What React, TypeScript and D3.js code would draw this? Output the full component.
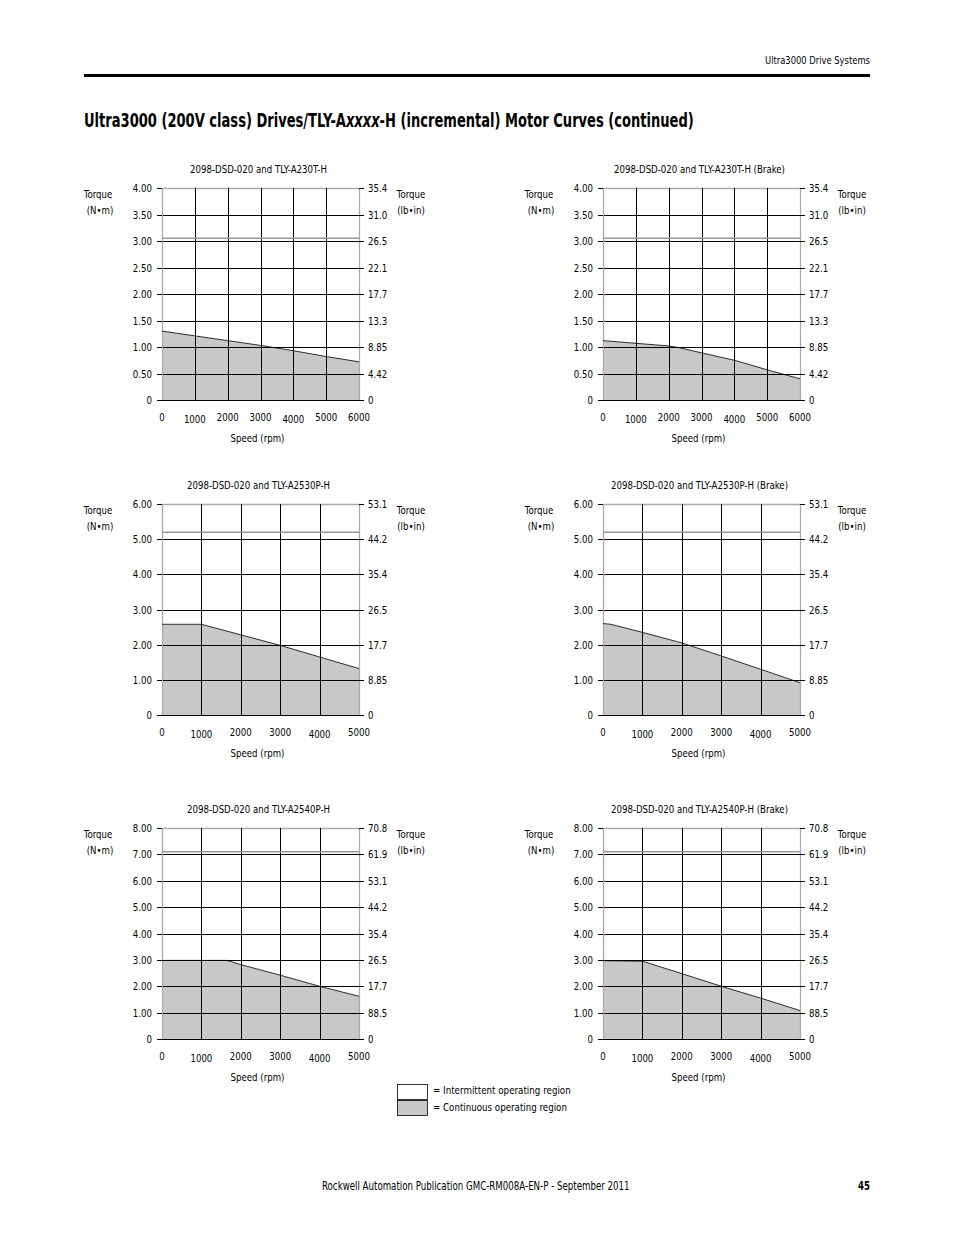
import React, { useRef, useEffect } from 'react';
import * as d3 from 'd3';

const FONT = "'DejaVu Sans Condensed', 'Liberation Sans', sans-serif";

// chart titles, in page order (left, right; top to bottom)
const titles = [
  '2098-DSD-020 and TLY-A230T-H',
  '2098-DSD-020 and TLY-A230T-H (Brake)',
  '2098-DSD-020 and TLY-A2530P-H',
  '2098-DSD-020 and TLY-A2530P-H (Brake)',
  '2098-DSD-020 and TLY-A2540P-H',
  '2098-DSD-020 and TLY-A2540P-H (Brake)',
];

// speed ticks (rpm)
const speedTicks6000 = [0, 1000, 2000, 3000, 4000, 5000, 6000];
const speedTicks5000 = [0, 1000, 2000, 3000, 4000, 5000];

// left torque ticks (N•m)
const torqueTicks4 = [0, 0.5, 1, 1.5, 2, 2.5, 3, 3.5, 4];
const torqueTicks6 = [0, 1, 2, 3, 4, 5, 6];
const torqueTicks8 = [0, 1, 2, 3, 4, 5, 6, 7, 8];

// right tick labels (lb•in), bottom to top, as printed
const lbinLabels4 = ['0', '4.42', '8.85', '13.3', '17.7', '22.1', '26.5', '31.0', '35.4'];
const lbinLabels6 = ['0', '8.85', '17.7', '26.5', '35.4', '44.2', '53.1'];
const lbinLabels8 = ['0', '88.5', '17.7', '26.5', '35.4', '44.2', '53.1', '61.9', '70.8'];

// intermittent peak torque (N•m)
const peakTorque = [3.05, 3.05, 5.2, 5.2, 7.1, 7.1];

// continuous operating curves
const contSpeed1 = [0, 1000, 2000, 3000, 4000, 5000, 6000];
const contTorque1 = [1.3, 1.21, 1.12, 1.03, 0.93, 0.82, 0.72];
const contSpeed2 = [0, 1000, 2000, 2300, 3000, 4000, 5000, 6000];
const contTorque2 = [1.12, 1.07, 1.02, 0.99, 0.89, 0.75, 0.57, 0.4];
const contSpeed3 = [0, 1000, 2000, 3000, 4000, 5000];
const contTorque3 = [2.58, 2.58, 2.28, 1.98, 1.65, 1.32];
const contSpeed4 = [0, 200, 1000, 2000, 3000, 4000, 5000];
const contTorque4 = [2.6, 2.58, 2.35, 2.05, 1.68, 1.3, 0.92];
const contSpeed5 = [0, 1650, 2000, 3000, 4000, 5000];
const contTorque5 = [2.98, 2.98, 2.82, 2.42, 2.0, 1.62];
const contSpeed6 = [0, 1000, 2000, 3000, 4000, 5000];
const contTorque6 = [2.97, 2.95, 2.48, 2.0, 1.55, 1.08];

const speeds = [contSpeed1, contSpeed2, contSpeed3, contSpeed4, contSpeed5, contSpeed6];
const torques = [contTorque1, contTorque2, contTorque3, contTorque4, contTorque5, contTorque6];
const xTicksList = [speedTicks6000, speedTicks6000, speedTicks5000, speedTicks5000, speedTicks5000, speedTicks5000];
const yTicksList = [torqueTicks4, torqueTicks4, torqueTicks6, torqueTicks6, torqueTicks8, torqueTicks8];
const rightLabelsList = [lbinLabels4, lbinLabels4, lbinLabels6, lbinLabels6, lbinLabels8, lbinLabels8];

const SX = 0.87; // horizontal squeeze to mimic the condensed print face

type Sel = d3.Selection<any, any, any, any>;

// text placed at (x, y), squeezed horizontally
const addText = (parent: Sel, x: number, y: number, s: string, anchor = 'start') =>
  parent.append('text')
    .attr('transform', `translate(${x},${y}) scale(${SX},1)`)
    .attr('text-anchor', anchor)
    .text(s);

// squeeze a text so it spans the given width
const fitWidth = (t: Sel, x: number, y: number, width: number) => {
  const node = t.node() as SVGTextElement;
  const w = node.getComputedTextLength();
  t.attr('transform', `translate(${x},${y}) scale(${width / w},1)`);
};

const App: React.FC = () => {
  const svgRef = useRef<SVGSVGElement>(null);

  useEffect(() => {
    const svg = d3.select(svgRef.current);
    svg.selectAll('*').remove();
    svg.attr('font-family', FONT);

    // page header
    const hdr = svg.append('text').attr('font-size', 11).text('Ultra3000 Drive Systems');
    fitWidth(hdr, 765, 64, 105);
    svg.append('rect')
      .attr('x', 84).attr('y', 74).attr('width', 786).attr('height', 3)
      .attr('fill', '#000');

    const head = svg.append('text').attr('font-size', 20).attr('font-weight', 'bold');
    head.append('tspan').text('Ultra3000 (200V class) Drives/TLY-A');
    head.append('tspan').attr('font-style', 'italic').text('xxxx');
    head.append('tspan').text('-H (incremental) Motor Curves (continued)');
    fitWidth(head, 84, 127, 610);

    const colX = [162, 603];
    const rowY = [188, 504, 828];
    const rowH = [212, 211, 211];
    const W = 197;

    titles.forEach((title, i) => {
      const col = i % 2;
      const row = Math.floor(i / 2);
      const x0 = colX[col];
      const y0 = rowY[row];
      const h = rowH[row];
      const xTicks = xTicksList[i];
      const yTicks = yTicksList[i];
      const xMax = xTicks[xTicks.length - 1];
      const yMax = yTicks[yTicks.length - 1];

      const x = d3.scaleLinear().domain([0, xMax]).range([x0, x0 + W]);
      const y = d3.scaleLinear().domain([0, yMax]).range([y0 + h, y0]);

      const g = svg.append('g').attr('font-size', 11);

      // continuous region
      const pts: [number, number][] = speeds[i].map((s, k) => [s, torques[i][k]]);
      const area = d3.area<[number, number]>()
        .x((d) => x(d[0]))
        .y0(y(0))
        .y1((d) => y(d[1]));
      g.append('path').attr('d', area(pts) as string).attr('fill', '#c8c8c8');

      // grid
      g.selectAll('line.h').data(yTicks).enter().append('line')
        .attr('x1', x0).attr('x2', x0 + W)
        .attr('y1', (d) => Math.round(y(d)) + 0.5).attr('y2', (d) => Math.round(y(d)) + 0.5)
        .attr('stroke', (d) => (d === yMax ? '#aaa' : '#000'))
        .attr('stroke-width', (d) => (d === yMax ? 1.5 : 1));
      g.selectAll('line.v').data(xTicks).enter().append('line')
        .attr('y1', y0).attr('y2', y0 + h)
        .attr('x1', (d) => Math.round(x(d)) + 0.5).attr('x2', (d) => Math.round(x(d)) + 0.5)
        .attr('stroke', (d) => (d === 0 || d === xMax ? '#aaa' : '#000'))
        .attr('stroke-width', (d) => (d === 0 || d === xMax ? 1.3 : 1));

      // continuous boundary
      const line = d3.line<[number, number]>().x((d) => x(d[0])).y((d) => y(d[1]));
      g.append('path').attr('d', line(pts) as string)
        .attr('fill', 'none').attr('stroke', '#000').attr('stroke-width', 0.8);

      // intermittent boundary
      g.append('line')
        .attr('x1', x(0)).attr('x2', x(xMax))
        .attr('y1', y(peakTorque[i])).attr('y2', y(peakTorque[i]))
        .attr('stroke', '#999').attr('stroke-width', 1.5);

      // bottom axis line
      g.append('line')
        .attr('x1', x0).attr('x2', x0 + W)
        .attr('y1', Math.round(y(0)) + 0.5).attr('y2', Math.round(y(0)) + 0.5)
        .attr('stroke', '#000').attr('stroke-width', 1);

      // left/right tick marks
      g.selectAll('line.lt').data(yTicks).enter().append('line')
        .attr('x1', x0 - 5).attr('x2', x0)
        .attr('y1', (d) => Math.round(y(d)) + 0.5).attr('y2', (d) => Math.round(y(d)) + 0.5)
        .attr('stroke', '#000').attr('stroke-width', 1);
      g.selectAll('line.rt').data(yTicks).enter().append('line')
        .attr('x1', x0 + W).attr('x2', x0 + W + 5)
        .attr('y1', (d) => Math.round(y(d)) + 0.5).attr('y2', (d) => Math.round(y(d)) + 0.5)
        .attr('stroke', '#000').attr('stroke-width', 1);

      // left tick labels
      yTicks.forEach((d) => {
        addText(g, x0 - 10, y(d) + 4, d === 0 ? '0' : d3.format('.2f')(d), 'end');
      });

      // right tick labels
      yTicks.forEach((d, k) => {
        addText(g, x0 + W + 9, y(d) + 4, rightLabelsList[i][k]);
      });

      // x tick labels (1000 and 4000 sit a bit lower, as printed)
      xTicks.forEach((d) => {
        addText(g, x(d), y(0) + 21 + (d === 1000 || d === 4000 ? 2 : 0), String(d), 'middle');
      });

      // titles and axis names
      addText(g, x0 + W / 2 - 2, y0 - 15, title, 'middle');
      addText(g, x0 + W / 2 - 3, y0 + h + 42, 'Speed (rpm)', 'middle');
      addText(g, x0 - 64, y0 + 10, 'Torque', 'middle');
      addText(g, x0 - 62, y0 + 26, '(N•m)', 'middle');
      addText(g, x0 + W + 52, y0 + 10, 'Torque', 'middle');
      addText(g, x0 + W + 52, y0 + 26, '(lb•in)', 'middle');
    });

    // legend
    const legendItems = ['= Intermittent operating region', '= Continuous operating region'];
    const legendFill = ['#fff', '#c8c8c8'];
    const legendWidth = [138, 134];
    const lg = svg.append('g').attr('font-size', 11);
    legendItems.forEach((label, k) => {
      lg.append('rect')
        .attr('x', 397.5).attr('y', 1084.5 + k * 16).attr('width', 30).attr('height', 15)
        .attr('fill', legendFill[k]).attr('stroke', '#000').attr('stroke-width', 0.8);
      const t = lg.append('text').text(label);
      fitWidth(t, 433, 1094 + k * 17, legendWidth[k]);
    });

    // footer
    const foot = svg.append('text').attr('font-size', 11.5)
      .text('Rockwell Automation Publication GMC-RM008A-EN-P - September 2011');
    fitWidth(foot, 322, 1190, 308);
    const pg = svg.append('text').attr('font-size', 11.5).attr('font-weight', 'bold').text('45');
    fitWidth(pg, 858, 1190, 12);
  }, []);

  return (
    <svg
      ref={svgRef}
      width={954}
      height={1235}
      style={{ position: 'absolute', left: 0, top: 0, background: '#fff' }}
    />
  );
};

export default App;
